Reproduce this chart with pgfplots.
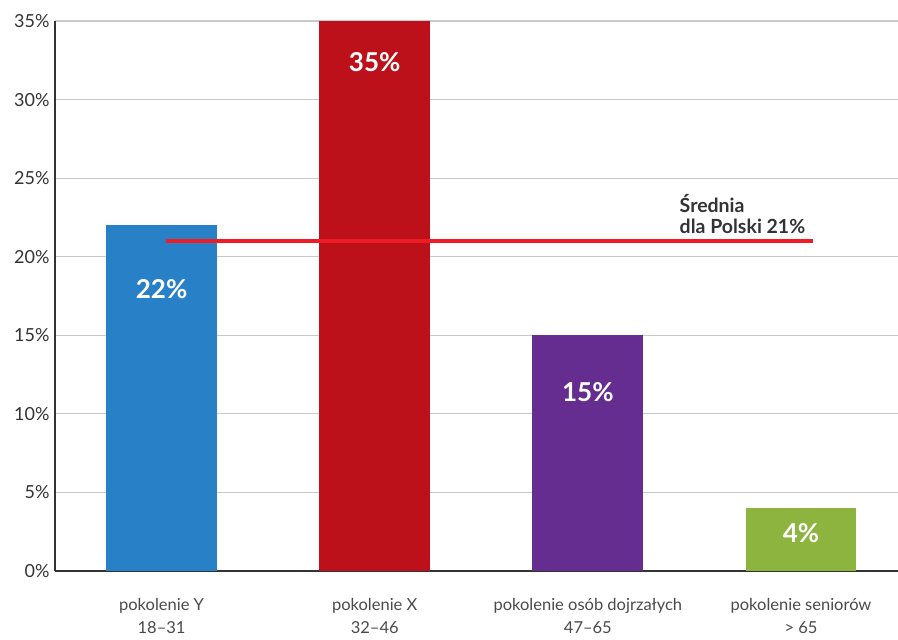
\documentclass[border=0pt]{standalone}
\usepackage{fontspec}
\setmainfont{Lato}
\usepackage{pgfplots}
\pgfplotsset{compat=1.18}

\definecolor{barY}{HTML}{2880C6}
\definecolor{barX}{HTML}{BC111A}
\definecolor{barD}{HTML}{642D8F}
\definecolor{barS}{HTML}{8CB43E}
\definecolor{avgline}{HTML}{EE1C25}
\definecolor{gridc}{HTML}{C9C9C9}
\definecolor{axisc}{HTML}{333333}
\definecolor{labc}{HTML}{4A4A4A}

\pgfplotsset{
  valbar/.style={
    ybar, bar width=0.52, bar shift=0pt, draw=none, fill=#1,
    nodes near coords, nodes near coords align={center},
    point meta=explicit symbolic,
    every node near coord/.append style={text=white,
      font=\bfseries\fontsize{26}{28}\selectfont, anchor=center},
  },
}

\begin{document}
\begin{tikzpicture}
\begin{axis}[
  scale only axis,
  width=843pt, height=550pt,
  xmin=-0.5, xmax=3.455,
  ymin=0, ymax=35,
  axis x line*=bottom, axis y line*=left,
  axis line style={axisc, line width=1.4pt},
  ytick={0,5,...,35},
  yticklabels={0\%,5\%,10\%,15\%,20\%,25\%,30\%,35\%},
  yticklabel style={font=\fontsize{18}{20}\selectfont, text=axisc, xshift=-2pt},
  ytick style={draw=none},
  ymajorgrids, grid style={gridc, line width=1.1pt},
  xtick={0,1,2,3},
  xticklabels={pokolenie Y\\18--31, pokolenie X\\32--46, pokolenie osób dojrzałych\\47--65, pokolenie seniorów\\> 65},
  xticklabel style={font=\fontsize{16.5}{22.5}\selectfont, text=labc, align=center, yshift=-24pt},
  xtick style={draw=none},
  extra x ticks={0.5,1.5,2.5},
  extra x tick labels={},
  extra x tick style={tick style={draw=axisc, line width=1.2pt}, major tick length=13pt, tick align=inside, xmajorgrids=false},
  clip=false,
]
\addplot[valbar=barY, nodes near coords style={yshift=-64pt}] coordinates {(0,22) [22\%]};
\addplot[valbar=barX, nodes near coords style={yshift=-41pt}] coordinates {(1,35) [35\%]};
\addplot[valbar=barD, nodes near coords style={yshift=-57pt}] coordinates {(2,15) [15\%]};
\addplot[valbar=barS, nodes near coords style={yshift=-25pt}] coordinates {(3,4) [4\%]};

% national average
\addplot[sharp plot, avgline, line width=3.5pt, mark=none] coordinates {(0.02,21) (3.055,21)};

\node[anchor=base west, inner sep=0, text=axisc, font=\bfseries\fontsize{19.5}{22}\selectfont]
  at (axis cs:2.43,21) [yshift=7pt] {dla Polski 21\%};
\node[anchor=base west, inner sep=0, text=axisc, font=\bfseries\fontsize{19.5}{22}\selectfont]
  at (axis cs:2.43,21) [yshift=28pt] {Średnia};

\coordinate (O) at (rel axis cs:0,0);
\end{axis}
\pgfresetboundingbox
\path (O) ++(-55pt,-69pt) rectangle ++(898pt,640pt);
\end{tikzpicture}
\end{document}
